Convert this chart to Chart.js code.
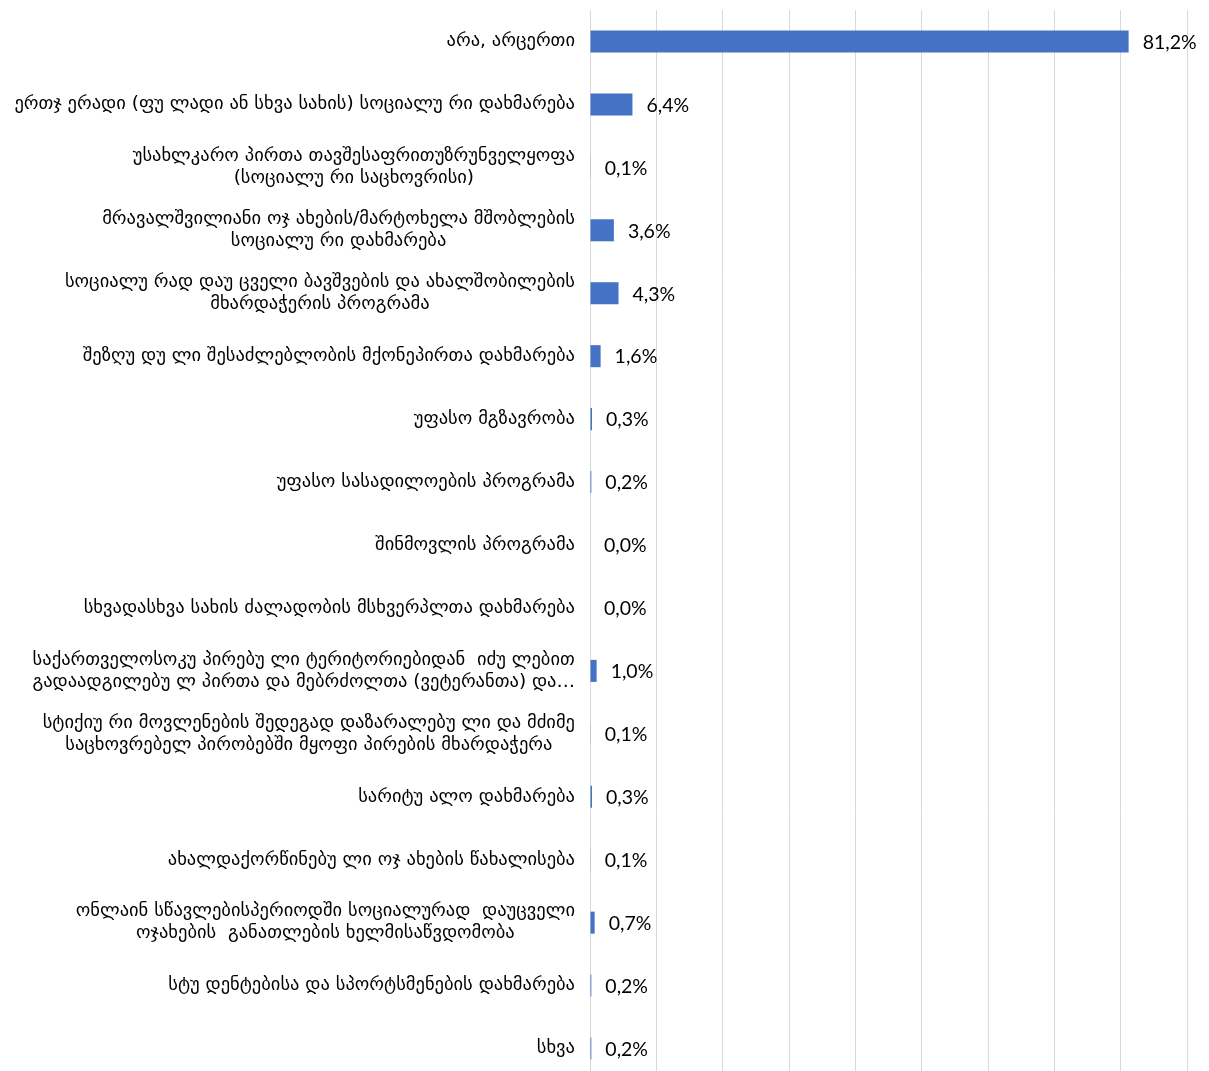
<!DOCTYPE html>
<html>
<head>
<meta charset="utf-8">
<script src="https://cdn.jsdelivr.net/npm/chart.js@4"></script>
<style>
  html, body { margin: 0; padding: 0; background: #fff; overflow: hidden; }
  #wrap { width: 1209px; height: 1080px; }
</style>
</head>
<body>
<div id="wrap"><canvas id="chart"></canvas></div>
<script>
// კატეგორიები (ზოგი ორ ხაზად)
const categories = [
  "არა, არცერთი",
  "ერთჯ ერადი (ფუ ლადი ან სხვა სახის) სოციალუ რი დახმარება",
  ["უსახლკარო პირთა თავშესაფრითუზრუნველყოფა", "(სოციალუ რი საცხოვრისი)"],
  ["მრავალშვილიანი ოჯ ახების/მარტოხელა მშობლების", "სოციალუ რი დახმარება"],
  ["სოციალუ რად დაუ ცველი ბავშვების და ახალშობილების", "მხარდაჭერის პროგრამა"],
  "შეზღუ დუ ლი შესაძლებლობის მქონეპირთა დახმარება",
  "უფასო მგზავრობა",
  "უფასო სასადილოების პროგრამა",
  "შინმოვლის პროგრამა",
  "სხვადასხვა სახის ძალადობის მსხვერპლთა დახმარება",
  ["საქართველოსოკუ პირებუ ლი ტერიტორიებიდან  იძუ ლებით", "გადაადგილებუ ლ პირთა და მებრძოლთა (ვეტერანთა) და…"],
  ["სტიქიუ რი მოვლენების შედეგად დაზარალებუ ლი და მძიმე", "საცხოვრებელ პირობებში მყოფი პირების მხარდაჭერა"],
  "სარიტუ ალო დახმარება",
  "ახალდაქორწინებუ ლი ოჯ ახების წახალისება",
  ["ონლაინ სწავლებისპერიოდში სოციალურად  დაუცველი", "ოჯახების  განათლების ხელმისაწვდომობა"],
  "სტუ დენტებისა და სპორტსმენების დახმარება",
  "სხვა"
];

// პროცენტები
const values = [81.2, 6.4, 0.1, 3.6, 4.3, 1.6, 0.3, 0.2, 0.0, 0.0, 1.0, 0.1, 0.3, 0.1, 0.7, 0.2, 0.2];

const xMax = 90;
const labelFont = '18.5px "DejaVu Sans"';
const valueFont = '19.5px Lato';

// ტექსტი ბოძის მარჯვნივ
const valueLabels = {
  id: 'valueLabels',
  afterDatasetsDraw(chart) {
    const ctx = chart.ctx;
    const meta = chart.getDatasetMeta(0);
    ctx.save();
    ctx.font = valueFont;
    ctx.fillStyle = '#000';
    ctx.textAlign = 'left';
    ctx.textBaseline = 'middle';
    meta.data.forEach((bar, i) => {
      const txt = values[i].toFixed(1).replace('.', ',') + '%';
      ctx.fillText(txt, bar.x + 14, bar.y + 1);
    });
    ctx.restore();
  }
};

// კატეგორიის სახელები, Excel-ის მსგავსად ცენტრირებული ხაზებით
const categoryLabels = {
  id: 'categoryLabels',
  afterDraw(chart) {
    const ctx = chart.ctx;
    const y = chart.scales.y;
    const right = chart.chartArea.left - 15;
    const lineH = 22;
    ctx.save();
    ctx.font = labelFont;
    ctx.fillStyle = '#000';
    ctx.textAlign = 'center';
    ctx.textBaseline = 'middle';
    categories.forEach((lab, i) => {
      const lines = Array.isArray(lab) ? lab : [lab];
      const w = Math.max(...lines.map(l => ctx.measureText(l).width));
      const cx = right - w / 2;
      const cy = y.getPixelForValue(i);
      const top = cy - (lines.length - 1) * lineH / 2;
      lines.forEach((l, k) => ctx.fillText(l, cx, top + k * lineH));
    });
    ctx.restore();
  }
};

new Chart(document.getElementById('chart'), {
  type: 'bar',
  data: {
    labels: categories,
    datasets: [{
      data: values,
      backgroundColor: '#4472c4',
      barPercentage: 0.35,
      categoryPercentage: 1.0
    }]
  },
  options: {
    indexAxis: 'y',
    responsive: true,
    maintainAspectRatio: false,
    animation: false,
    layout: { padding: { top: 10, right: 22, bottom: 0, left: 0 } },
    plugins: {
      legend: { display: false },
      tooltip: { enabled: false }
    },
    scales: {
      x: {
        min: 0,
        max: xMax,
        ticks: { display: false, stepSize: 10 },
        grid: { color: '#d9d9d9', lineWidth: 1, drawTicks: false },
        border: { display: false }
      },
      y: {
        ticks: { display: false },
        grid: { display: false },
        border: { display: false },
        afterFit(scale) { scale.width = 590; }
      }
    }
  },
  plugins: [valueLabels, categoryLabels]
});
</script>
</body>
</html>
